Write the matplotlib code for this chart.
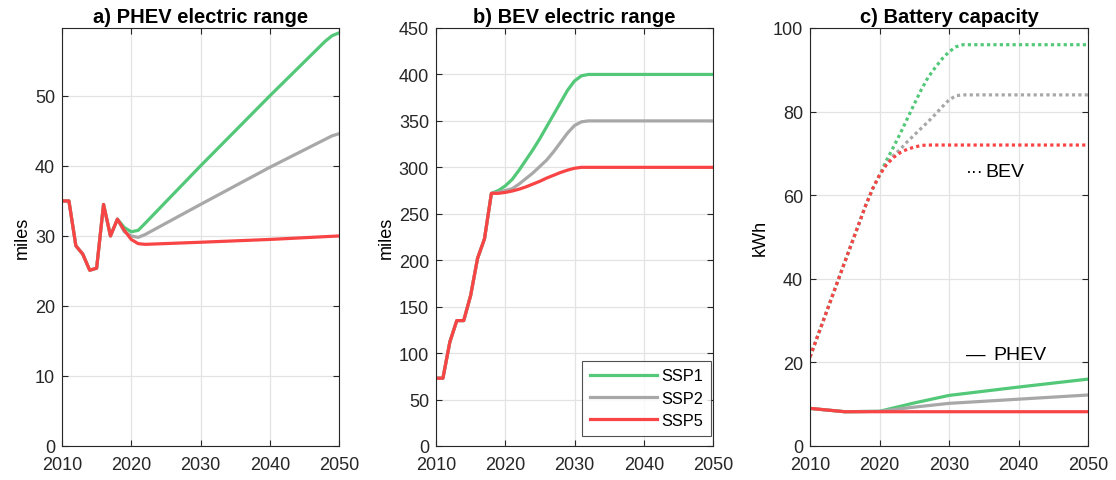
import numpy as np
import matplotlib.pyplot as plt

plt.rcParams['font.family'] = ['Liberation Sans', 'DejaVu Sans']

green = '#52C878'
grey = '#A8A8A8'
red = '#F84444'

# a) PHEV electric range (miles)
yr_a = [2010, 2011, 2012, 2013, 2014, 2015, 2016, 2017, 2018, 2019, 2020, 2021, 2022,
        2030, 2040, 2048, 2049, 2050]
phev_ssp1 = [35, 35, 28.6, 27.4, 25.1, 25.4, 34.5, 30.0, 32.4, 31.2, 30.6, 30.8, 31.8,
             40.0, 50.0, 57.8, 58.6, 59.0]
phev_ssp2 = [35, 35, 28.6, 27.4, 25.1, 25.4, 34.5, 30.0, 32.4, 30.6, 30.0, 29.8, 30.2,
             34.5, 39.8, 43.8, 44.3, 44.6]
phev_ssp5 = [35, 35, 28.6, 27.4, 25.1, 25.4, 34.5, 30.0, 32.4, 30.8, 29.5, 28.9, 28.8,
             29.1, 29.5, 29.9, 29.95, 30.0]

# b) BEV electric range (miles)
yr_b = [2010, 2011, 2012, 2013, 2014, 2015, 2016, 2017, 2018, 2019, 2020, 2021, 2022,
        2023, 2024, 2025, 2026, 2027, 2028, 2029, 2030, 2031, 2032, 2050]
bev_ssp1 = [73, 73, 112, 135, 135, 162, 202, 223, 272, 275, 280, 287, 297,
            308, 319, 331, 344, 357, 370, 383, 393, 398.5, 400, 400]
bev_ssp2 = [73, 73, 112, 135, 135, 162, 202, 223, 272, 273, 275, 277, 282,
            288, 294, 301, 308, 317, 327, 337, 345, 349, 350, 350]
bev_ssp5 = [73, 73, 112, 135, 135, 162, 202, 223, 272, 272, 273, 274.5, 276.5,
            279, 282, 285, 288.5, 291.5, 294.5, 297, 299, 300, 300, 300]

# c) Battery capacity (kWh)
yr_c_bev = [2010, 2015, 2018, 2019, 2020, 2021, 2022, 2023, 2024, 2025, 2026, 2027,
            2028, 2029, 2030, 2031, 2032, 2050]
cap_bev_ssp1 = [21.3, 44, 57.5, 61.5, 64.8, 68.3, 71.5, 74.8, 78.3, 81.8, 85.2, 88.2,
                90.5, 92.6, 94.3, 95.5, 96, 96]
cap_bev_ssp2 = [21.3, 44, 57.5, 61.5, 64.8, 67.5, 69.5, 71.0, 72.8, 74.4, 76.0, 77.6,
                79.3, 81.1, 82.8, 83.8, 84, 84]
cap_bev_ssp5 = [21.3, 44, 57.5, 61.5, 64.8, 67.3, 69.0, 70.2, 71.0, 71.5, 71.9, 72,
                72, 72, 72, 72, 72, 72]

yr_c_phev = [2010, 2015, 2020, 2025, 2030, 2040, 2050]
cap_phev_ssp1 = [9.0, 8.2, 8.3, 10.3, 12.1, 14.1, 16.0]
cap_phev_ssp2 = [9.0, 8.2, 8.3, 9.3, 10.2, 11.2, 12.2]
cap_phev_ssp5 = [9.0, 8.2, 8.2, 8.2, 8.2, 8.2, 8.2]

lw = 2.3
dots = (0, (1, 1.0))

fig = plt.figure(figsize=(11.16, 4.81), dpi=100)
ax1 = fig.add_axes([62/1116, 34/481, 277/1116, 418/481])
ax2 = fig.add_axes([436/1116, 34/481, 277/1116, 418/481])
ax3 = fig.add_axes([810/1116, 34/481, 278/1116, 418/481])


def style(ax, title, ylabel, ylim, yticks):
    ax.set_xlim(2010, 2050)
    ax.set_xticks([2010, 2020, 2030, 2040, 2050])
    ax.set_ylim(*ylim)
    ax.set_yticks(yticks)
    ax.grid(True, color='#E3E3E3', linewidth=0.9)
    ax.set_axisbelow(True)
    ax.tick_params(direction='in', length=4, width=0.8, top=True, right=True,
                   labelsize=13, colors='#262626', pad=5)
    ax.tick_params(axis='x', pad=7)
    for s in ax.spines.values():
        s.set_color('#262626')
        s.set_linewidth(0.8)
    ax.set_title(title, fontsize=14.5, fontweight='bold', pad=4)
    ax.set_ylabel(ylabel, fontsize=13, labelpad=3)


ax1.plot(yr_a, phev_ssp1, color=green, lw=lw)
ax1.plot(yr_a, phev_ssp2, color=grey, lw=lw)
ax1.plot(yr_a, phev_ssp5, color=red, lw=lw)
style(ax1, 'a) PHEV electric range', 'miles', (0, 59.7), range(0, 60, 10))

ax2.plot(yr_b, bev_ssp1, color=green, lw=lw, label='SSP1')
ax2.plot(yr_b, bev_ssp2, color=grey, lw=lw, label='SSP2')
ax2.plot(yr_b, bev_ssp5, color=red, lw=lw, label='SSP5')
style(ax2, 'b) BEV electric range', 'miles', (0, 450), range(0, 451, 50))
leg = ax2.legend(loc='lower right', bbox_to_anchor=(0.993, 0.025), borderaxespad=0,
                 fontsize=11.8, handlelength=4.1, handletextpad=0.3,
                 labelspacing=0.45, borderpad=0.45, fancybox=False)
leg.get_frame().set_edgecolor('#262626')
leg.get_frame().set_linewidth(0.8)

ax3.plot(yr_c_bev, cap_bev_ssp1, color=green, lw=lw, ls=dots)
ax3.plot(yr_c_bev, cap_bev_ssp2, color=grey, lw=lw, ls=dots)
ax3.plot(yr_c_bev, cap_bev_ssp5, color=red, lw=lw, ls=dots)
ax3.plot(yr_c_phev, cap_phev_ssp1, color=green, lw=lw)
ax3.plot(yr_c_phev, cap_phev_ssp2, color=grey, lw=lw)
ax3.plot(yr_c_phev, cap_phev_ssp5, color=red, lw=lw)
style(ax3, 'c) Battery capacity', 'kWh', (0, 100), range(0, 101, 20))
# line-style key for the two vehicle types
ax3.text(2032.5, 65.6, '\u00b7\u00b7\u00b7', fontsize=13, va='center', ha='left')
ax3.text(2035.2, 65.6, 'BEV', fontsize=14, va='center', ha='left')
ax3.text(2032.4, 21.9, '\u2014', fontsize=14, va='center', ha='left')
ax3.text(2036.4, 21.9, 'PHEV', fontsize=14, va='center', ha='left')

fig.savefig('out.png', dpi=100)
